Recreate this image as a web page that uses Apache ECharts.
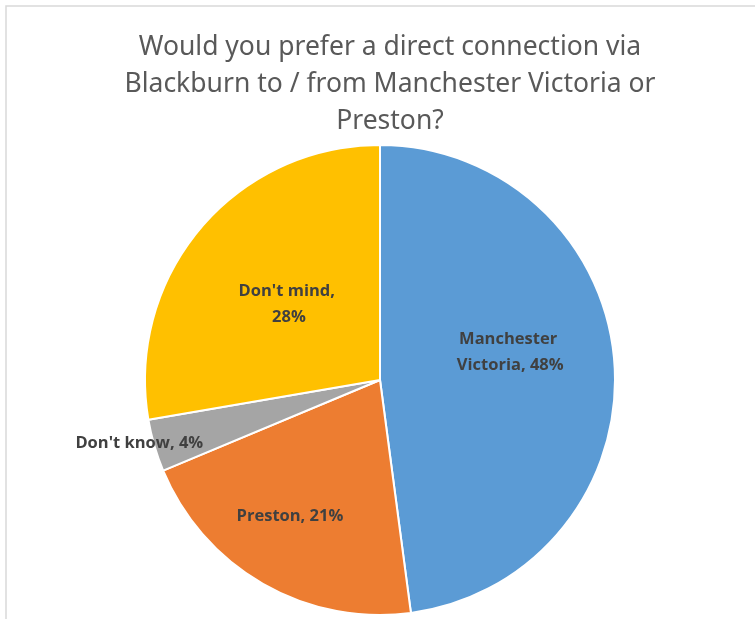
<!DOCTYPE html>
<html>
<head>
<meta charset="utf-8">
<script src="https://cdn.jsdelivr.net/npm/echarts@6/dist/echarts.min.js"></script>
<style>
  html, body { margin: 0; padding: 0; background: #fff; }
  #main { width: 755px; height: 619px; }
</style>
</head>
<body>
<div id="main"></div>
<script>
// survey answers, clockwise from 12 o'clock
var categories = ['Manchester Victoria', 'Preston', "Don't know", "Don't mind"];
var shares = [47.9, 20.8, 3.6, 27.7];
var titleLines = [
  'Would you prefer a direct connection via',
  'Blackburn to / from Manchester Victoria or',
  'Preston?'
];

var colors = ['#5B9BD5', '#ED7D31', '#A5A5A5', '#FFC000'];
// label tweaks (excel "best fit" placement)
var labelTweaks = [
  { offset: [10, -20], width: 150 },
  { offset: [-30, 32], width: 180 },
  { offset: [-125, 30], width: 180 },
  { offset: [1, 2], width: 110 }
];

var total = shares.reduce(function (a, b) { return a + b; }, 0);

var chart = echarts.init(document.getElementById('main'));

var option = {
  backgroundColor: '#fff',
  color: colors,
  title: {
    text: titleLines.join('\n'),
    left: 385,
    top: 24,
    textAlign: 'center',
    textStyle: {
      fontFamily: 'Noto Sans',
      fontSize: 26.5,
      fontWeight: 'normal',
      color: '#595959',
      lineHeight: 37
    }
  },
  graphic: [{
    type: 'rect',
    shape: { x: 6, y: 6, width: 800, height: 700 },
    style: { fill: 'none', stroke: '#d9d9d9', lineWidth: 1.5 },
    silent: true
  }],
  series: [{
    type: 'pie',
    center: [380, 380],
    radius: 235,
    startAngle: 90,
    clockwise: true,
    avoidLabelOverlap: false,
    itemStyle: { borderColor: '#fff', borderWidth: 2 },
    label: {
      position: 'inside',
      fontFamily: 'Open Sans',
      fontWeight: 'bold',
      fontSize: 16.5,
      color: '#404040',
      lineHeight: 26,
      overflow: 'break',
      formatter: function (p) {
        return p.name + ', ' + Math.round(p.value / total * 100) + '%';
      }
    },
    labelLine: { show: false },
    emphasis: { disabled: true },
    data: categories.map(function (name, i) {
      return {
        name: name,
        value: shares[i],
        label: { offset: labelTweaks[i].offset, width: labelTweaks[i].width }
      };
    })
  }]
};

chart.setOption(option);
</script>
</body>
</html>
